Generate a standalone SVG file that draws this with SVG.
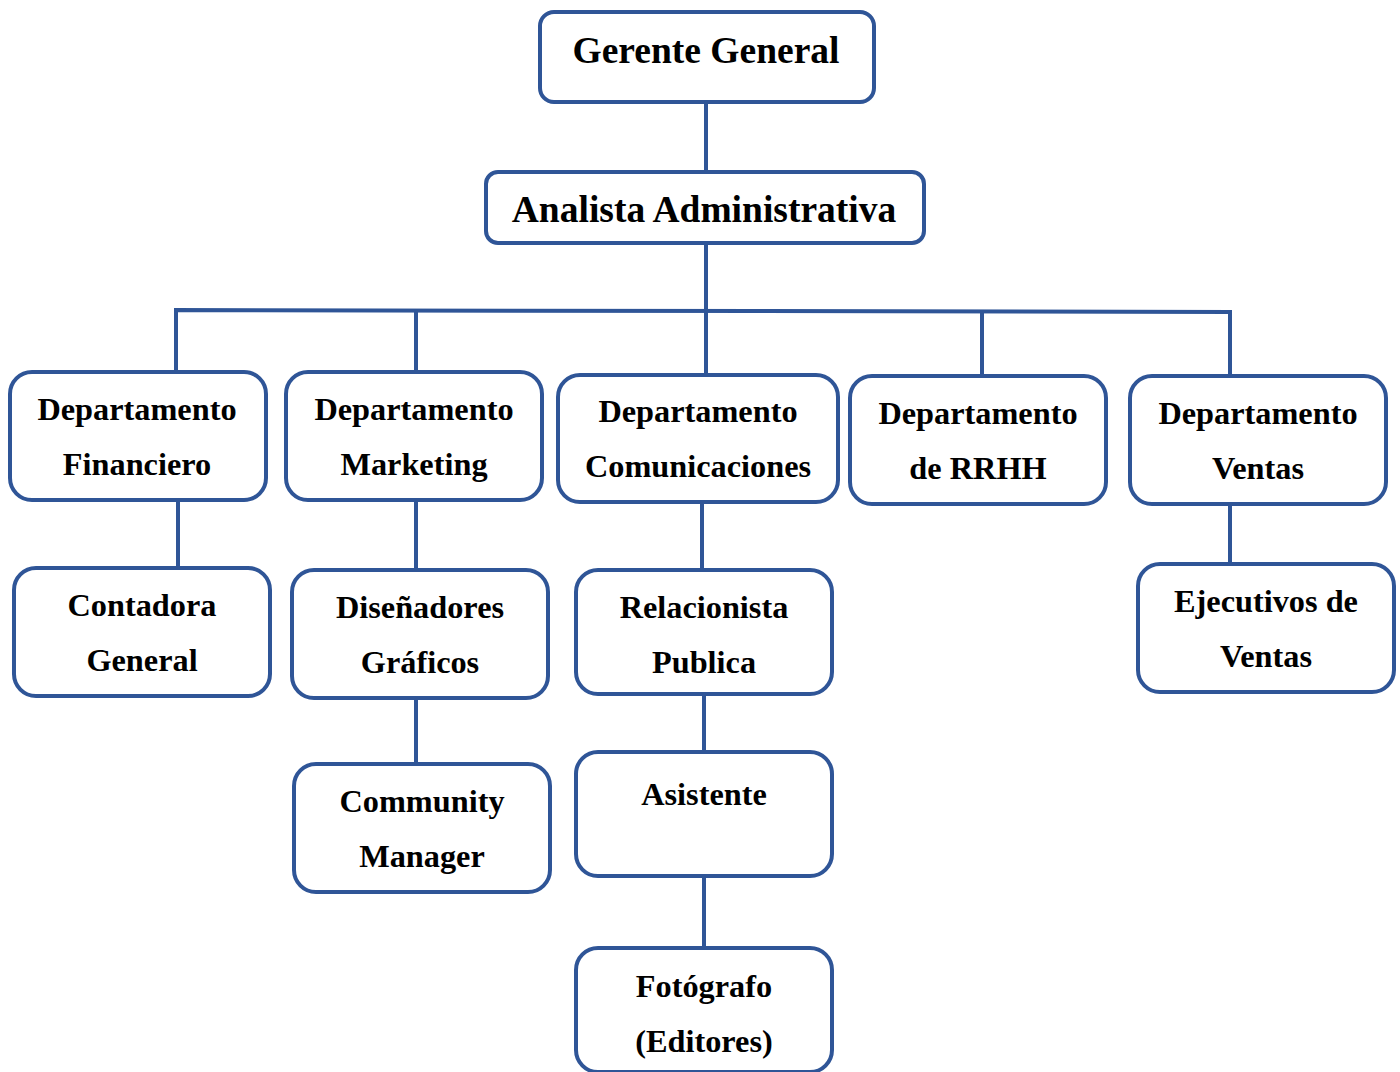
<svg xmlns="http://www.w3.org/2000/svg" width="1400" height="1072" viewBox="0 0 1400 1072">
<style>
.box{fill:#fff;stroke:#2F5597;stroke-width:4}
.ln{stroke:#2F5597;stroke-width:4;fill:none}
text{font-family:"Liberation Serif","Times New Roman",serif;font-weight:bold;fill:#000;text-anchor:middle}
.t1{font-size:37.5px}
.t2{font-size:32.3px}
</style>
<rect width="1400" height="1072" fill="#fff"/>
<g id="connectors">
<line class="ln" x1="706" y1="102" x2="706" y2="172"/>
<line class="ln" x1="706" y1="243" x2="706" y2="375"/>
<polyline class="ln" points="176,372 176,310 1230,312 1230,376"/>
<line class="ln" x1="416" y1="310" x2="416" y2="372"/>
<line class="ln" x1="982" y1="311" x2="982" y2="376"/>
<line class="ln" x1="178" y1="500" x2="178" y2="568"/>
<line class="ln" x1="416" y1="500" x2="416" y2="570"/>
<line class="ln" x1="416" y1="698" x2="416" y2="764"/>
<line class="ln" x1="702" y1="502" x2="702" y2="570"/>
<line class="ln" x1="704" y1="694" x2="704" y2="752"/>
<line class="ln" x1="704" y1="876" x2="704" y2="948"/>
<line class="ln" x1="1230" y1="504" x2="1230" y2="564"/>
</g>
<g id="gerente"><rect class="box" x="540" y="12" width="334" height="90" rx="14"/><text class="t1" x="706" y="63">Gerente General</text></g>
<g id="analista"><rect class="box" x="486" y="172" width="438" height="71" rx="12"/><text class="t1" x="704" y="222">Analista Administrativa</text></g>
<g id="dep-fin"><rect class="box" x="10" y="372" width="256" height="128" rx="22"/><text class="t2" x="137" y="420">Departamento</text><text class="t2" x="137" y="475">Financiero</text></g>
<g id="dep-mkt"><rect class="box" x="286" y="372" width="256" height="128" rx="22"/><text class="t2" x="414" y="420">Departamento</text><text class="t2" x="414" y="475">Marketing</text></g>
<g id="dep-com"><rect class="box" x="558" y="375" width="280" height="127" rx="22"/><text class="t2" x="698" y="422">Departamento</text><text class="t2" x="698" y="477">Comunicaciones</text></g>
<g id="dep-rrhh"><rect class="box" x="850" y="376" width="256" height="128" rx="22"/><text class="t2" x="978" y="424">Departamento</text><text class="t2" x="978" y="479">de RRHH</text></g>
<g id="dep-ventas"><rect class="box" x="1130" y="376" width="256" height="128" rx="22"/><text class="t2" x="1258" y="424">Departamento</text><text class="t2" x="1258" y="479">Ventas</text></g>
<g id="contadora"><rect class="box" x="14" y="568" width="256" height="128" rx="22"/><text class="t2" x="142" y="616">Contadora</text><text class="t2" x="142" y="671">General</text></g>
<g id="disenadores"><rect class="box" x="292" y="570" width="256" height="128" rx="22"/><text class="t2" x="420" y="618">Diseñadores</text><text class="t2" x="420" y="673">Gráficos</text></g>
<g id="relacionista"><rect class="box" x="576" y="570" width="256" height="124" rx="22"/><text class="t2" x="704" y="618">Relacionista</text><text class="t2" x="704" y="673">Publica</text></g>
<g id="community"><rect class="box" x="294" y="764" width="256" height="128" rx="22"/><text class="t2" x="422" y="812">Community</text><text class="t2" x="422" y="867">Manager</text></g>
<g id="asistente"><rect class="box" x="576" y="752" width="256" height="124" rx="22"/><text class="t2" x="704" y="805">Asistente</text></g>
<g id="fotografo"><rect class="box" x="576" y="948" width="256" height="124" rx="22"/><text class="t2" x="704" y="997">Fotógrafo</text><text class="t2" x="704" y="1052">(Editores)</text></g>
<g id="ejecutivos"><rect class="box" x="1138" y="564" width="256" height="128" rx="22"/><text class="t2" x="1266" y="612">Ejecutivos de</text><text class="t2" x="1266" y="667">Ventas</text></g>
</svg>
